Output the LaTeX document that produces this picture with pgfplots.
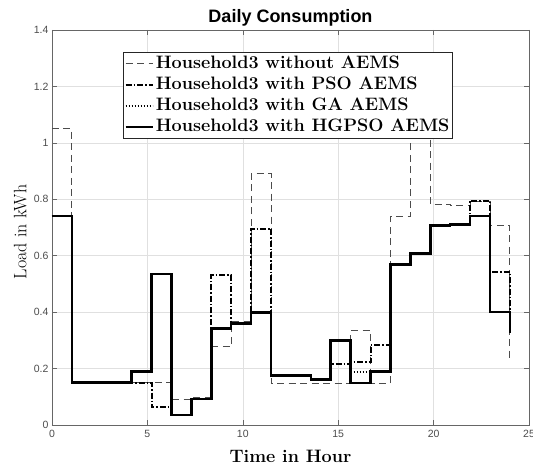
\documentclass[border=0pt]{standalone}
\usepackage{fontspec}
\usepackage{pgfplots}
\usepackage{pgfplotstable}
\pgfplotsset{compat=1.18}
\newfontfamily\helv{Liberation Sans}

\pgfplotstableread{
x        wo     pso    ga     hg
0        1.05   0.74   0.74   0.74
1.0435   0.155  0.15   0.15   0.15
2.0870   0.155  0.15   0.15   0.15
3.1304   0.155  0.15   0.15   0.15
4.1739   0.15   0.15   0.19   0.19
5.2174   0.15   0.063  0.535  0.535
6.2609   0.09   0.035  0.035  0.035
7.3043   0.096  0.092  0.092  0.092
8.3478   0.277  0.531  0.342  0.342
9.3913   0.366  0.36   0.36   0.36
10.4348  0.891  0.696  0.398  0.398
11.4783  0.148  0.175  0.175  0.175
12.5217  0.148  0.175  0.175  0.175
13.5652  0.148  0.162  0.162  0.162
14.6087  0.148  0.216  0.30   0.30
15.6522  0.334  0.222  0.189  0.148
16.6957  0.148  0.283  0.189  0.189
17.7391  0.74   0.569  0.569  0.569
18.7826  1.08   0.608  0.608  0.608
19.8261  0.782  0.707  0.707  0.707
20.8696  0.778  0.71   0.71   0.71
21.9130  0.793  0.795  0.74   0.74
22.9565  0.707  0.543  0.40   0.40
24       0.237  0.325  0.325  0.325
}\data

\begin{document}
\begin{tikzpicture}
\begin{axis}[
  at={(0,0)}, anchor=south west,
  scale only axis, width=477bp, height=395bp,
  xmin=0, xmax=25, ymin=0, ymax=1.4,
  xtick={0,5,10,15,20,25},
  ytick={0,0.2,0.4,0.6,0.8,1,1.2,1.4},
  grid=major,
  major grid style={black!12, line width=0.5bp},
  axis line style={black!60, line width=0.6bp},
  tick style={black!60, line width=0.6bp},
  major tick length=5bp, tick align=inside,
  /pgf/number format/assume math mode=true,
  ticklabel style={font=\helv\fontsize{10.5bp}{12bp}\selectfont, text=black!70},
  xticklabel style={yshift=-2bp},
  title={Daily Consumption},
  title style={font=\helv\bfseries\fontsize{18bp}{21bp}\selectfont,
    at={(axis description cs:0.5,1)}, anchor=base, yshift=2bp},
  xlabel={\bfseries Time in Hour},
  xlabel style={font=\fontsize{18bp}{21bp}\selectfont,
    at={(axis description cs:0.5,0)}, anchor=base, yshift=-37.5bp},
  ylabel={Load in kWh},
  ylabel style={font=\fontsize{18bp}{21bp}\selectfont,
    at={(axis description cs:0,0.489)}, anchor=base, rotate=0, yshift=25.5bp},
  legend style={at={(axis description cs:0.149,0.944)}, anchor=north west,
    font=\bfseries\fontsize{18bp}{21bp}\selectfont,
    draw=black!85, line width=0.6bp, fill=white, inner sep=1bp, row sep=0pt,
    nodes={inner sep=2bp, text height=13bp, text depth=4bp}},
  legend cell align=left,
  legend image code/.code={\draw[#1] (0bp,0bp) -- (27bp,0bp);},
]
\addplot[const plot, color=black!70, line width=0.9bp, dash pattern=on 7bp off 4.5bp] table[x=x,y=wo]{\data};
\addplot[const plot, black, line width=2bp, dash pattern=on 6bp off 2bp on 1.5bp off 2bp] table[x=x,y=pso]{\data};
\addplot[const plot, black, line width=2bp, dash pattern=on 1.3bp off 1.7bp] table[x=x,y=ga]{\data};
\addplot[const plot, black, line width=2.5bp] table[x=x,y=hg]{\data};
\legend{Household3 without AEMS, Household3 with PSO AEMS, Household3 with GA AEMS, Household3 with HGPSO AEMS}
\end{axis}
\pgfresetboundingbox
\path[use as bounding box] (-52bp,-41bp) rectangle (481bp,425bp);
\end{tikzpicture}
\end{document}
